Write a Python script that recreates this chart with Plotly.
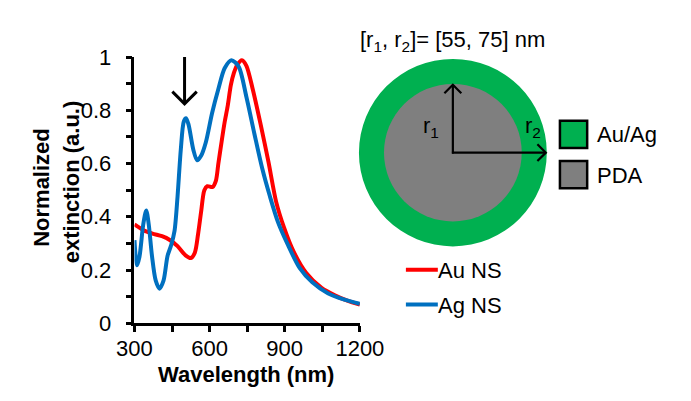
import plotly.graph_objects as go

# ---------------- data ----------------
wavelength_au = [300, 335, 372, 410, 441, 472, 504, 525, 541, 554, 566, 579, 591, 612, 625, 635,
                 647, 660, 672, 685, 697, 710, 729, 747, 772, 804, 835, 866, 897, 935, 985,
                 1047, 1100, 1150, 1200]
ext_au = [0.371, 0.350, 0.337, 0.327, 0.313, 0.290, 0.255, 0.245, 0.265, 0.335, 0.418, 0.500,
          0.515, 0.512, 0.535, 0.600, 0.676, 0.755, 0.815, 0.895, 0.940, 0.970, 0.988, 0.967,
          0.880, 0.746, 0.606, 0.455, 0.360, 0.270, 0.190, 0.133, 0.105, 0.085, 0.070]

wavelength_ag = [300, 310, 320, 335, 347, 357, 370, 385, 400, 416, 432, 447, 460, 472, 485, 497,
                 506, 516, 535, 550, 566, 585, 610, 635, 660, 687, 716, 747, 779, 810, 841, 873,
                 910, 960, 1010, 1072, 1135, 1200]
ext_ag = [0.312, 0.218, 0.250, 0.371, 0.424, 0.371, 0.253, 0.160, 0.130, 0.160, 0.253, 0.295,
          0.347, 0.476, 0.652, 0.758, 0.770, 0.746, 0.652, 0.612, 0.629, 0.680, 0.790, 0.880,
          0.958, 0.988, 0.964, 0.850, 0.711, 0.582, 0.476, 0.380, 0.300, 0.207, 0.154, 0.113,
          0.090, 0.073]

series_names = ["Au NS", "Ag NS"]
series_colors = ["#FF0000", "#0070C0"]
x_tick_vals = [300, 600, 900, 1200]
y_tick_vals = [0, 0.2, 0.4, 0.6, 0.8, 1]
y_tick_text = ["0", "0.2", "0.4", "0.6", "0.8", "1"]
arrow_wavelength = 500
arrow_span = [1.0, 0.824]
r1_nm, r2_nm = 55, 75
material_labels = ["Au/Ag", "PDA"]
material_colors = ["#00B050", "#7F7F7F"]

# ---------------- geometry (pixels) ----------------
W, H = 691, 401
PL, PR, PT, PB = 124, 364, 48, 332
X_RANGE = [300, 1200]
Y_RANGE = [0, 1]
FONT = "Liberation Sans, Arial, sans-serif"
FS = 22


def px(x):
    return x / W


def py(y):
    return 1 - y / H


def data_to_px(xv, yv):
    xp = PL + (xv - X_RANGE[0]) / (X_RANGE[1] - X_RANGE[0]) * (PR - PL)
    yp = PB - (yv - Y_RANGE[0]) / (Y_RANGE[1] - Y_RANGE[0]) * (PB - PT)
    return xp, yp


fig = go.Figure()
fig.add_trace(go.Scatter(x=wavelength_au, y=ext_au, mode="lines", name=series_names[0],
                         line=dict(color=series_colors[0], width=4, shape="spline", smoothing=0.8),
                         showlegend=False))
fig.add_trace(go.Scatter(x=wavelength_ag, y=ext_ag, mode="lines", name=series_names[1],
                         line=dict(color=series_colors[1], width=4, shape="spline", smoothing=0.8),
                         showlegend=False))

axis_common = dict(showgrid=False, zeroline=False, showline=True, linecolor="black", linewidth=2.5,
                   ticks="outside", ticklen=6, tickwidth=2.5, tickcolor="black",
                   tickfont=dict(family=FONT, size=FS, color="black"), fixedrange=True)

fig.update_layout(
    width=W, height=H, margin=dict(l=0, r=0, t=0, b=0),
    paper_bgcolor="white", plot_bgcolor="white",
    xaxis=dict(domain=[px(PL), px(PR)], range=X_RANGE, tickvals=x_tick_vals,
               minor=dict(dtick=150, tick0=300, ticks="outside", ticklen=6, tickwidth=2.5, tickcolor="black"),
               ticklabelstandoff=-2, **axis_common),
    yaxis=dict(domain=[py(PB), py(PT)], range=Y_RANGE, tickvals=y_tick_vals, ticktext=y_tick_text,
               minor=dict(dtick=0.1, tick0=0, ticks="outside", ticklen=6, tickwidth=2.5, tickcolor="black"),
               ticklabelstandoff=10, **axis_common),
)

shapes = []
annotations = []


def label(x, y, text, xanchor="center", angle=0):
    annotations.append(dict(x=px(x), y=py(y), xref="paper", yref="paper", text=text, showarrow=False,
                            textangle=angle, font=dict(family=FONT, size=FS, color="black"),
                            xanchor=xanchor, yanchor="middle", borderpad=0))


def arrow(x0, y0, x1, y1, head, width):
    """straight arrow from (x0,y0) to (x1,y1) in pixels with an open chevron head"""
    shapes.append(dict(type="line", xref="paper", yref="paper", x0=px(x0), y0=py(y0), x1=px(x1), y1=py(y1),
                       line=dict(color="black", width=width)))
    dx, dy = x1 - x0, y1 - y0
    n = (dx * dx + dy * dy) ** 0.5
    ux, uy = dx / n, dy / n
    bx, by = x1 - ux * head, y1 - uy * head
    ax_, ay_ = bx - uy * head, by + ux * head
    cx_, cy_ = bx + uy * head, by - ux * head
    path = (f"M{px(ax_)},{py(ay_)} L{px(x1)},{py(y1)} L{px(cx_)},{py(cy_)}")
    shapes.append(dict(type="path", xref="paper", yref="paper", path=path,
                       line=dict(color="black", width=width)))


# axis titles
label(243, 387, "<b>Wavelength (nm)</b>")
label(25, 187, "<b>Normalized</b>", angle=-90)
label(57, 181, "<b>extinction (a.u.)</b>", angle=-90)

# black arrow marking the peak
ax0, ay0 = data_to_px(arrow_wavelength, arrow_span[0])
ax1, ay1 = data_to_px(arrow_wavelength, arrow_span[1])
arrow(ax0, ay0, ax1, ay1, 13, 3)

# schematic of the nanoshell
cx, cy = 463, 150
R2 = 100
scale = R2 / r2_nm
R1 = r1_nm * scale
for R, col in ((R2, material_colors[0]), (R1, material_colors[1])):
    shapes.append(dict(type="circle", xref="paper", yref="paper", x0=px(cx - R), x1=px(cx + R),
                       y0=py(cy + R), y1=py(cy - R), fillcolor=col, line=dict(width=0)))
arrow(cx, cy + 1, cx, cy - R1 + 1, 9, 2.2)
arrow(cx - 1, cy, cx + R2 - 1, cy, 9, 2.2)
label(440, 123, "r<sub>1</sub>")
label(548, 123, "r<sub>2</sub>")
label(cx, 31, f"[r<sub>1</sub>, r<sub>2</sub>]= [{r1_nm}, {r2_nm}] nm")

# material key
for i, (lab, col) in enumerate(zip(material_labels, material_colors)):
    y0 = 116 + i * 43
    shapes.append(dict(type="rect", xref="paper", yref="paper", x0=px(577), x1=px(606),
                       y0=py(y0 + 29), y1=py(y0), fillcolor=col, line=dict(color="black", width=2.5)))
    label(615, y0 + 15, lab, xanchor="left")

# curve key
for i, (name, col) in enumerate(zip(series_names, series_colors)):
    yy = 275 + i * 37
    shapes.append(dict(type="line", xref="paper", yref="paper", x0=px(413), x1=px(447),
                       y0=py(yy), y1=py(yy), line=dict(color=col, width=4)))
    label(446, yy + 1, name, xanchor="left")

fig.update_layout(shapes=shapes, annotations=annotations)
fig.write_html(
    "out.html", config={"displayModeBar": False},
    post_script=(
        "document.body.style.margin='0';"
        "document.querySelectorAll('svg text').forEach(function(t){"
        "if(!t.textContent || !t.textContent.trim()){t.remove();}});"
    ),
)
